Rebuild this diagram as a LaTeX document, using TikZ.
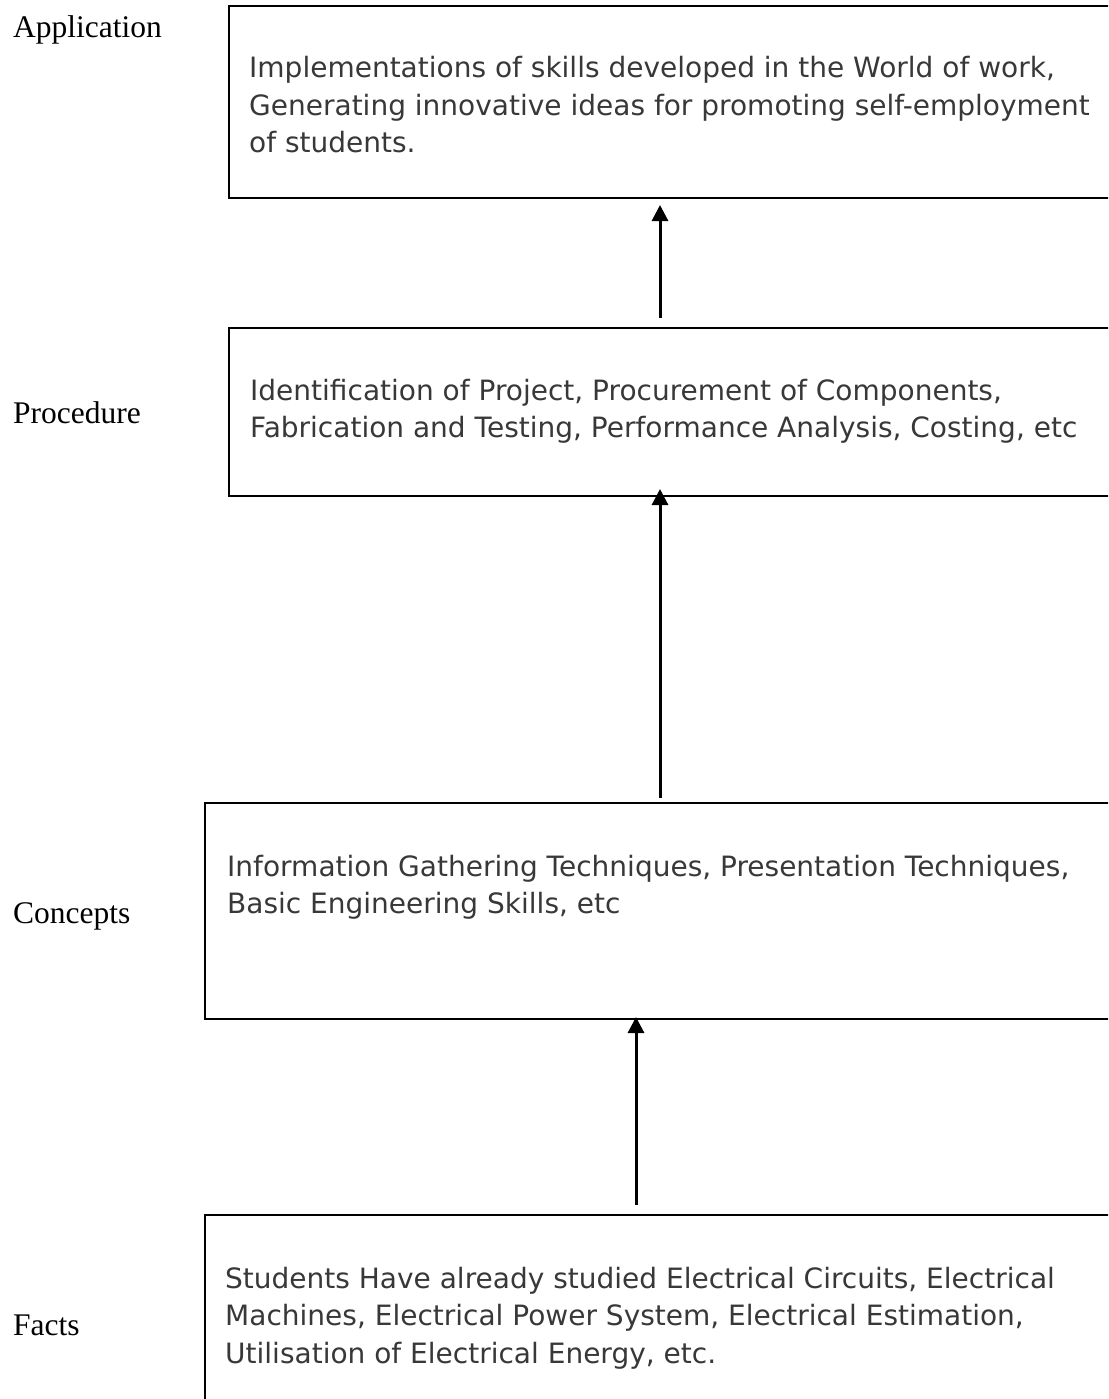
\documentclass[tikz,border=0pt]{standalone}
\usepackage{fontspec}
\setmainfont{Liberation Serif}
\newfontfamily\boxfont{DejaVu Sans}
\usetikzlibrary{arrows.meta,calc}
\newcommand{\boxlines}[1]{\begin{tabular}[t]{@{}l@{}}#1\end{tabular}}
\begin{document}
\begin{tikzpicture}[x=1pt,y=-1pt,
  lvl/.style={anchor=base west, inner sep=0pt, font=\fontsize{31.5}{36}\selectfont},
  box/.style={draw, line width=2pt, anchor=north west, inner sep=0pt, minimum width=960pt},
  txt/.style={anchor=base west, inner sep=0pt, text=black!78, font=\boxfont\fontsize{28}{37.5}\selectfont},
  arr/.style={line width=3pt, -{Triangle[length=16pt,width=16pt]}}]
\useasboundingbox (0,0) rectangle (1108,1399);
\clip (0,0) rectangle (1108,1399);

\node[box, minimum height=192pt] (b1) at (228,5) {};
\node[box, minimum height=168pt] (b2) at (228,327) {};
\node[box, minimum height=216pt] (b3) at (204,802) {};
\node[box, minimum height=300pt] (b4) at (204,1214) {};

\node[txt] (t1) at (249,78) {\boxlines{Implementations of skills developed in the World of work,\\Generating innovative ideas for promoting self-employment\\of students.}};
\node[txt] (t2) at (250,400) {\boxlines{Identification of Project, Procurement of Components,\\Fabrication and Testing, Performance Analysis, Costing, etc}};
\node[txt] (t3) at (227,876) {\boxlines{Information Gathering Techniques, Presentation Techniques,\\Basic Engineering Skills, etc}};
\node[txt] (t4) at (225,1288) {\boxlines{Students Have already studied Electrical Circuits, Electrical\\Machines, Electrical Power System, Electrical Estimation,\\Utilisation of Electrical Energy, etc.}};

\node[lvl] (l1) at (13,38) {Application};
\node[lvl] (l2) at (13,423) {Procedure};
\node[lvl] (l3) at (13,923) {Concepts};
\node[lvl] (l4) at (13,1335) {Facts};

\draw[arr] ($(b2.north west)+(432,-9)$) -- ($(b1.south west)+(432,6)$);
\draw[arr] ($(b3.north west)+(456,-4)$) -- ($(b2.south west)+(432,-8)$);
\draw[arr] ($(b4.north west)+(432,-9)$) -- ($(b3.south west)+(432,-3)$);
\end{tikzpicture}
\end{document}
